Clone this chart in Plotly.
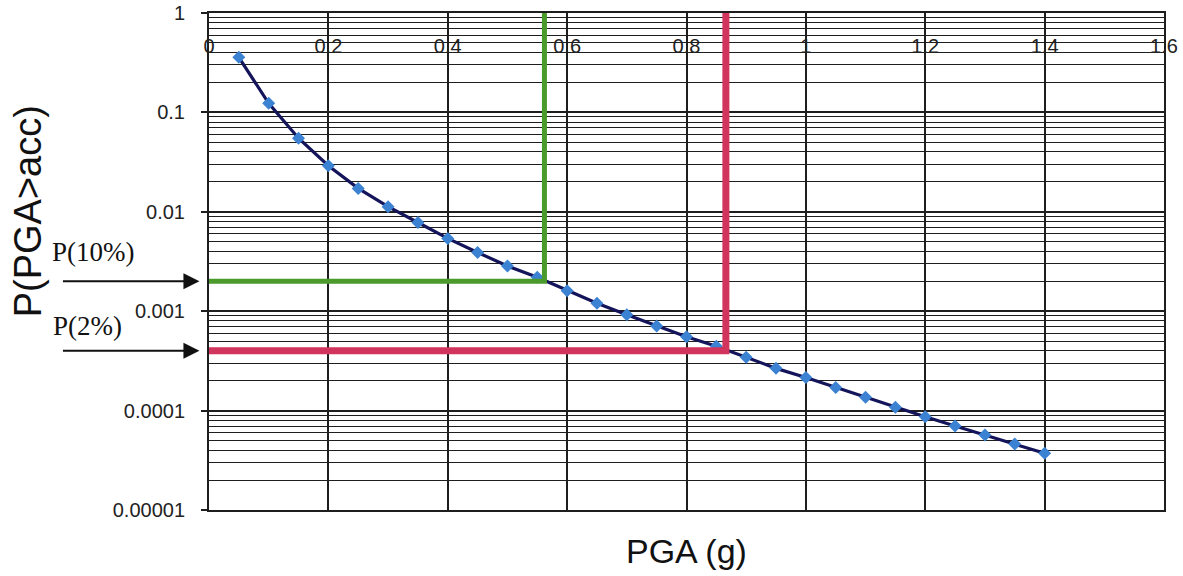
import math
import plotly.graph_objects as go

# ---- data ----
pga = [0.05, 0.10, 0.15, 0.20, 0.25, 0.30, 0.35, 0.40, 0.45, 0.50,
       0.55, 0.60, 0.65, 0.70, 0.75, 0.80, 0.85, 0.90, 0.95, 1.00,
       1.05, 1.10, 1.15, 1.20, 1.25, 1.30, 1.35, 1.40]
prob = [0.358, 0.1235, 0.055, 0.0291, 0.0172, 0.01125, 0.0078, 0.0054, 0.0039, 0.00285,
        0.0022, 0.00161, 0.0012, 0.00092, 0.00071, 0.000554, 0.000445, 0.000344, 0.000266, 0.000215,
        0.000171, 0.000136, 0.000108, 0.0000869, 0.00007, 0.0000569, 0.0000461, 0.0000372]

p10_prob, p10_pga = 0.002, 0.562
p2_prob, p2_pga = 0.0004, 0.866

x_ticks = [0, 0.2, 0.4, 0.6, 0.8, 1.0, 1.2, 1.4, 1.6]
x_ticktext = ["0", "0.2", "0.4", "0.6", "0.8", "1", "1.2", "1.4", "1.6"]
y_ticks = [1, 0.1, 0.01, 0.001, 0.0001, 0.00001]
y_ticktext = ["1", "0.1", "0.01", "0.001", "0.0001", "0.00001"]
y_minor = [k * 10.0 ** e for e in range(-5, 0) for k in range(2, 10)]

FONT = "Liberation Sans, Arial, sans-serif"
SERIF = "Liberation Serif, Times New Roman, serif"
GRID = "#1e1e1e"

fig = go.Figure()

fig.add_trace(go.Scatter(
    x=pga, y=prob, mode="lines+markers",
    line=dict(color="#14145a", width=3.2),
    marker=dict(symbol="diamond", size=10, color="#3c82d2"),
    showlegend=False, hoverinfo="x+y"))

fig.add_trace(go.Scatter(
    x=[0, p10_pga, p10_pga], y=[p10_prob, p10_prob, 1], mode="lines",
    line=dict(color="#4a9b2c", width=5), showlegend=False))
fig.add_trace(go.Scatter(
    x=[0, p2_pga, p2_pga], y=[p2_prob, p2_prob, 1], mode="lines",
    line=dict(color="#d1345c", width=7), showlegend=False))

fig.update_xaxes(
    range=[0, 1.6], side="top", tickvals=x_ticks, ticktext=x_ticktext,
    ticks="", ticklabelposition="inside", ticklabeloverflow="allow",
    ticklabelstandoff=27, automargin=False,
    showgrid=True, gridcolor=GRID, gridwidth=1.6, zeroline=False,
    showline=True, linecolor=GRID, linewidth=2, mirror=True,
    tickfont=dict(family=FONT, size=20, color="#222"))

fig.update_yaxes(
    type="log", range=[-5, 0], tickvals=y_ticks, ticktext=y_ticktext,
    ticks="outside", ticklen=6, tickcolor=GRID, tickwidth=1.5, automargin=False,
    ticklabelstandoff=12, ticklabeloverflow="allow",
    showgrid=True, gridcolor=GRID, gridwidth=1.6, zeroline=False,
    showline=True, linecolor=GRID, linewidth=2, mirror=True,
    minor=dict(tickvals=y_minor, showgrid=True, gridcolor=GRID, gridwidth=1.4, ticks=""),
    tickfont=dict(family=FONT, size=20, color="#222"))

annotations = [
    dict(text="PGA (g)", xref="paper", yref="paper", x=0.5, y=-0.083,
         xanchor="center", yanchor="middle", showarrow=False,
         font=dict(family=FONT, size=34, color="#111")),
    dict(text="P(PGA&gt;acc)", xref="paper", yref="paper", x=-0.19, y=0.6,
         xanchor="center", yanchor="middle", textangle=-90, showarrow=False,
         font=dict(family=FONT, size=38, color="#111")),
    dict(text="P(10%)", xref="paper", yref="y", x=-0.167, y=-2.40,
         xanchor="left", yanchor="middle", showarrow=False,
         font=dict(family=SERIF, size=27, color="#111")),
    dict(text="P(2%)", xref="paper", yref="y", x=-0.165, y=-3.15,
         xanchor="left", yanchor="middle", showarrow=False,
         font=dict(family=SERIF, size=27, color="#111")),
]
for p in [p10_prob, p2_prob]:
    annotations.append(dict(
        text="", xref="paper", yref="y", x=-0.01, y=math.log10(p),
        axref="pixel", ayref="pixel", ax=-138, ay=0, showarrow=True,
        arrowhead=2, arrowsize=1.6, arrowwidth=2, arrowcolor="#111"))

fig.update_layout(
    width=1183, height=576,
    margin=dict(l=209, r=19, t=13, b=66),
    paper_bgcolor="white", plot_bgcolor="white",
    annotations=annotations)

# remove the default 8px page margin so the figure fills the window exactly
fig.write_html(
    "out.html",
    config={"displayModeBar": False},
    post_script="document.documentElement.style.margin='0';"
                "document.body.style.margin='0';"
                "document.body.style.overflow='hidden';")
